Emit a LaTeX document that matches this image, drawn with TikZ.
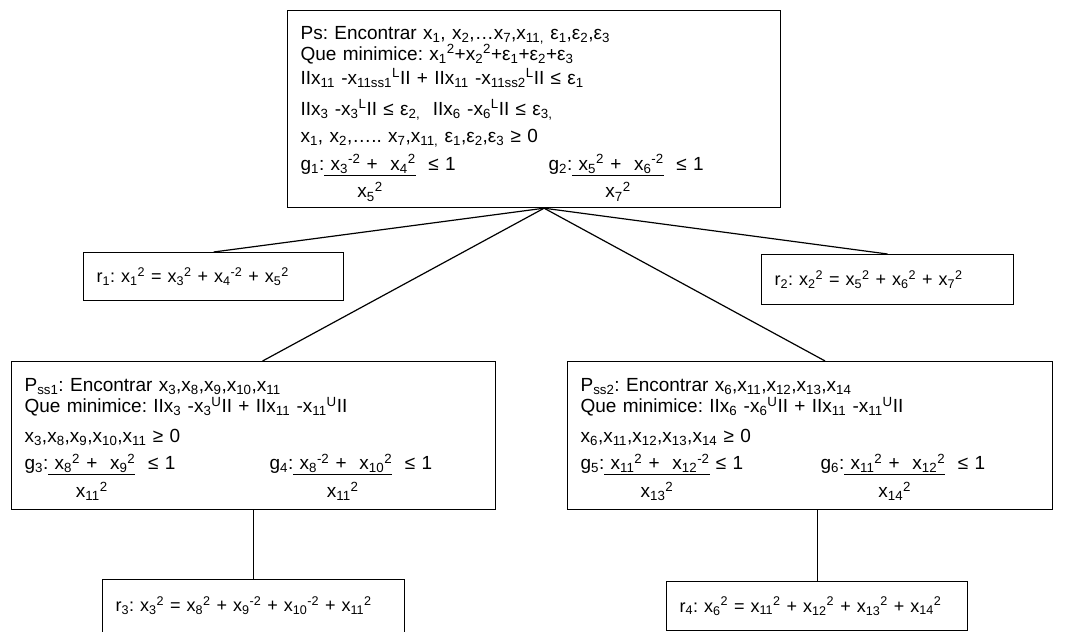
\documentclass[tikz,border=0pt]{standalone}
\usepackage{fontspec}
\setmainfont{Liberation Sans}
\frenchspacing
\usetikzlibrary{positioning}

\newcommand{\xsub}[1]{\textsubscript{#1}}
\newcommand{\xsup}[1]{\textsuperscript{#1}}
\newcommand{\gfrac}[2]{\begin{tabular}[t]{@{}c@{}}\underline{#1}\\[6pt]#2\end{tabular}}

\begin{document}
\begin{tikzpicture}[x=1pt, y=-1pt,
    prob/.style={rectangle, draw, line width=1.2pt, anchor=north west, align=left, inner xsep=13pt, inner ysep=0pt, font=\fontsize{19}{21}\selectfont},
    rel/.style={prob, font=\fontsize{18}{21}\selectfont},
    link/.style={line width=1.2pt}
]
\useasboundingbox (0,0) rectangle (1072,632);

% main problem
\node[prob, text width=467pt, minimum height=197pt] (ps) at (287,10) {%
\rule{0pt}{25pt}Ps: Encontrar x\xsub1, x\xsub2,…x\xsub7,x\xsub{11,} ε\xsub1,ε\xsub2,ε\xsub3\\
Que minimice: x\xsub1\xsup2+x\xsub2\xsup2+ε\xsub1+ε\xsub2+ε\xsub3\\[3pt]
IIx\xsub{11} -x\xsub{11ss1}\xsup{L}II + IIx\xsub{11} -x\xsub{11ss2}\xsup{L}II ≤ ε\xsub1\\[10pt]
IIx\xsub3 -x\xsub3\xsup{L}II ≤ ε\xsub{2,}\ \ IIx\xsub6 -x\xsub6\xsup{L}II ≤ ε\xsub{3,}\\[6pt]
x\xsub1, x\xsub2,….. x\xsub7,x\xsub{11,} ε\xsub1,ε\xsub2,ε\xsub3 ≥ 0\\[7pt]
\makebox[248pt][l]{g\xsub1:\gfrac{\ x\xsub3\xsup{-2} +\ \ x\xsub4\xsup2}{x\xsub5\xsup2}\ \ ≤ 1}%
g\xsub2:\gfrac{\ x\xsub5\xsup2 +\ \ x\xsub6\xsup{-2}}{x\xsub7\xsup2}\ \ ≤ 1};

% relations of the main problem
\node[rel, text width=234pt, minimum height=48pt] (r1) at (83,252) {\mbox{r\xsub1: x\xsub1\xsup2 = x\xsub3\xsup2 + x\xsub4\xsup{-2} + x\xsub5\xsup2}};
\node[rel, text width=226pt, minimum height=50pt] (r2) at (761,254) {\mbox{r\xsub2: x\xsub2\xsup2 = x\xsub5\xsup2 + x\xsub6\xsup2 + x\xsub7\xsup2}};

% subproblems
\node[prob, text width=458pt, minimum height=148pt] (pss1) at (11,361) {%
\rule{0pt}{24pt}P\xsub{ss1}: Encontrar x\xsub3,x\xsub8,x\xsub9,x\xsub{10},x\xsub{11}\\
Que minimice: IIx\xsub3 -x\xsub3\xsup{U}II + IIx\xsub{11} -x\xsub{11}\xsup{U}II\\[9pt]
x\xsub3,x\xsub8,x\xsub9,x\xsub{10},x\xsub{11} ≥ 0\\[6pt]
\makebox[245pt][l]{g\xsub3:\gfrac{\ x\xsub8\xsup2 +\ \ x\xsub9\xsup2}{x\xsub{11}\xsup2}\ \ ≤ 1}%
g\xsub4:\gfrac{\ x\xsub8\xsup{-2} +\ \ x\xsub{10}\xsup2}{x\xsub{11}\xsup2}\ \ ≤ 1};
\node[prob, text width=459pt, minimum height=148pt] (pss2) at (567,361) {%
\rule{0pt}{24pt}P\xsub{ss2}: Encontrar x\xsub6,x\xsub{11},x\xsub{12},x\xsub{13},x\xsub{14}\\
Que minimice: IIx\xsub6 -x\xsub6\xsup{U}II + IIx\xsub{11} -x\xsub{11}\xsup{U}II\\[9pt]
x\xsub6,x\xsub{11},x\xsub{12},x\xsub{13},x\xsub{14} ≥ 0\\[6pt]
\makebox[240pt][l]{g\xsub5:\gfrac{\ x\xsub{11}\xsup2 +\ \ x\xsub{12}\xsup{-2}}{x\xsub{13}\xsup2} ≤ 1}%
g\xsub6:\gfrac{\ x\xsub{11}\xsup2 +\ \ x\xsub{12}\xsup2}{x\xsub{14}\xsup2}\ \ ≤ 1};

% relations of the subproblems
\node[rel, text width=276pt, text height=32pt, text depth=50pt] (r3) at (102,579) {\mbox{r\xsub3: x\xsub3\xsup2 = x\xsub8\xsup2 + x\xsub9\xsup{-2} + x\xsub{10}\xsup{-2} + x\xsub{11}\xsup2}};
\node[rel, text width=275pt, minimum height=49pt] (r4) at (666,581) {\mbox{r\xsub4: x\xsub6\xsup2 = x\xsub{11}\xsup2 + x\xsub{12}\xsup2 + x\xsub{13}\xsup2 + x\xsub{14}\xsup2}};

% connectors
\coordinate (hub) at ([xshift=10pt]ps.south);
\draw[link] (hub) -- (r1.north);
\draw[link] (hub) -- (r2.north);
\draw[link] (hub) -- ([xshift=9pt]pss1.north);
\draw[link] (hub) -- ([xshift=15pt]pss2.north);
\draw[link] (pss1.south) -- (r3.north);
\draw[link] (pss2.south -| r4.north) -- (r4.north);
\end{tikzpicture}
\end{document}
